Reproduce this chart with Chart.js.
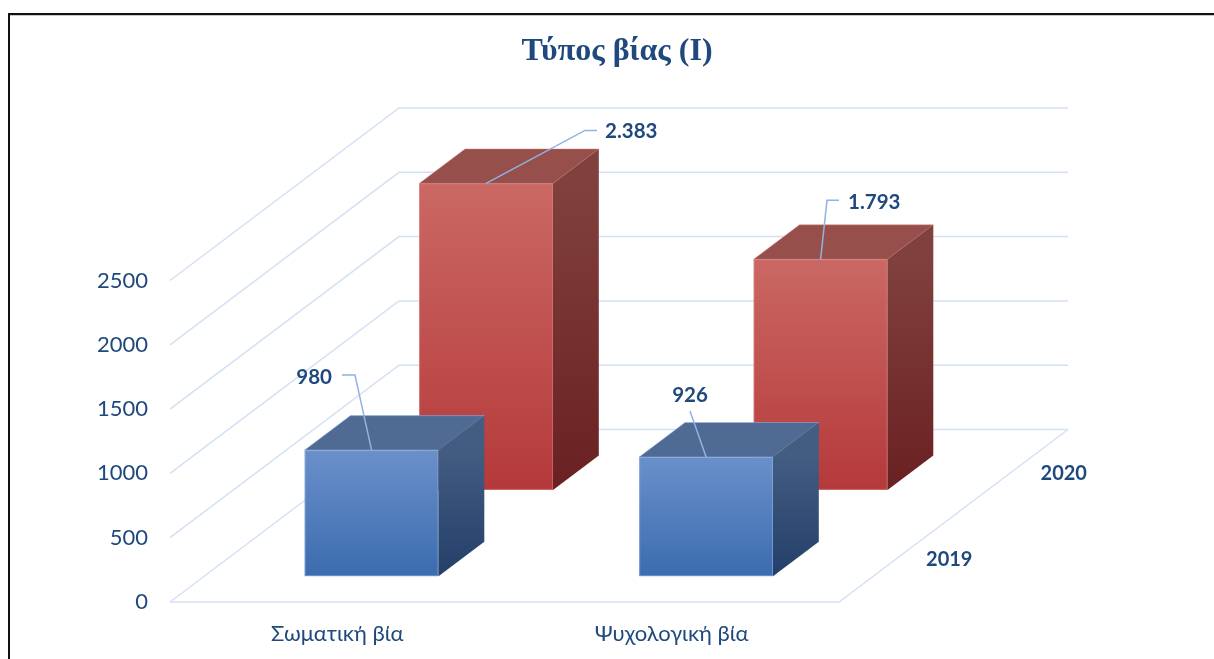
<!DOCTYPE html>
<html>
<head>
<meta charset="utf-8">
<script src="https://cdn.jsdelivr.net/npm/chart.js@4.4.0/dist/chart.umd.min.js"></script>
<style>
html,body{margin:0;padding:0;background:#fff;overflow:hidden;}
#c{display:block;}
</style>
</head>
<body>
<canvas id="c" width="1214" height="659"></canvas>
<script>
// ---- data ----
const categories = ['Σωματική βία', 'Ψυχολογική βία'];
const years = ['2019', '2020'];
const values2019 = [980, 926];
const values2020 = [2383, 1793];
const yTickValues = [0, 500, 1000, 1500, 2000, 2500];
const chartTitle = 'Τύπος βίας (Ι)';

// ---- style / layout ----
const DEPTH_X = 229, DEPTH_Y = -172.5;
const TEXT = '#1f497d';
const GRID = '#d3e1f4';
const LEADER = '#8fb3e4';
const NUM_FONT = "Lato, 'Noto Sans', sans-serif";
const TITLE_POS = [617, 52];
const palettes = [
  { front: ['#6a90ca', '#3b6caf'], top: '#506b93', side: ['#425c82', '#243f69'], edge: 'rgba(150,180,228,0.55)' },
  { front: ['#ca6864', '#b5393a'], top: '#974f4c', side: ['#80403e', '#6a2020'], edge: 'rgba(225,140,135,0.45)' }
];
// label placement relative to the front-top centre of each bar: leader points, text position, alignment
const labelLayout = [
  [ { pts: [[-16.6, -75], [-29.6, -75]], text: [-39.6, -73, 'right'] },
    { pts: [[-16.1, -46]], text: [-16.1, -62, 'center'] } ],
  [ { pts: [[98.9, -53], [110.9, -53]], text: [118.9, -52, 'left'] },
    { pts: [[6.4, -59], [18.4, -59]], text: [27.4, -57, 'left'] } ]
];

function fmt(v) { return String(v).replace(/\B(?=(\d{3})+(?!\d))/g, '.'); }

const threeD = {
  id: 'threeD',
  afterDatasetsDraw(chart) {
    const ctx = chart.ctx, ca = chart.chartArea;
    const ys = chart.scales.y;
    const P = (x, y, z) => [x + DEPTH_X * z, y + DEPTH_Y * z];
    ctx.save();

    // frame
    ctx.fillStyle = '#111';
    ctx.fillRect(8, 13, 1206, 2);
    ctx.fillRect(8, 13, 2, 646);
    ctx.fillStyle = '#c8c8c8';
    ctx.fillRect(10, 15, 1204, 1);

    // title
    ctx.fillStyle = TEXT;
    ctx.font = "bold 32px 'Liberation Serif', 'Times New Roman', serif";
    ctx.textAlign = 'center'; ctx.textBaseline = 'middle';
    ctx.fillText(chartTitle, TITLE_POS[0], TITLE_POS[1]);

    // walls & grid
    ctx.strokeStyle = GRID;
    ctx.lineWidth = 1.5;
    yTickValues.forEach(v => {
      const py = ys.getPixelForValue(v);
      ctx.beginPath();
      ctx.moveTo(ca.left, py);
      ctx.lineTo(...P(ca.left, py, 1));
      ctx.lineTo(...P(ca.right, py, 1));
      ctx.stroke();
    });
    const y0 = ys.getPixelForValue(0);
    ctx.beginPath();
    ctx.moveTo(ca.left, y0);
    ctx.lineTo(ca.right, y0);
    ctx.lineTo(...P(ca.right, y0, 1));
    ctx.stroke();

    const n = chart.data.datasets.length;
    const anchors = [];
    // bars back to front
    for (let r = n - 1; r >= 0; r--) {
      const meta = chart.getDatasetMeta(r);
      const z0 = (r + 0.3) / n, z1 = (r + 0.7) / n;
      const pal = palettes[r];
      anchors[r] = [];
      meta.data.forEach((bar, i) => {
        const v = chart.data.datasets[r].data[i];
        const x0 = bar.x - bar.width / 2, x1 = bar.x + bar.width / 2;
        const yT = ys.getPixelForValue(v), yB = y0;
        const [fx0, fyT] = P(x0, yT, z0);
        const [fx1, fyB] = P(x1, yB, z0);
        // front
        let g = ctx.createLinearGradient(0, fyT, 0, fyB);
        g.addColorStop(0, pal.front[0]); g.addColorStop(1, pal.front[1]);
        ctx.fillStyle = g;
        ctx.fillRect(fx0, fyT, fx1 - fx0, fyB - fyT);
        ctx.strokeStyle = pal.edge; ctx.lineWidth = 1;
        ctx.strokeRect(fx0 + 0.5, fyT + 0.5, fx1 - fx0 - 1, fyB - fyT - 1);
        // top
        ctx.beginPath();
        ctx.moveTo(...P(x0, yT, z0)); ctx.lineTo(...P(x1, yT, z0));
        ctx.lineTo(...P(x1, yT, z1)); ctx.lineTo(...P(x0, yT, z1));
        ctx.closePath();
        ctx.fillStyle = pal.top; ctx.fill();
        ctx.strokeStyle = pal.edge; ctx.stroke();
        // side
        const [, sTop] = P(x1, yT, z0);
        const [, sBot] = P(x1, yB, z0);
        g = ctx.createLinearGradient(0, sTop, 0, sBot);
        g.addColorStop(0, pal.side[0]); g.addColorStop(1, pal.side[1]);
        ctx.beginPath();
        ctx.moveTo(...P(x1, yT, z0)); ctx.lineTo(...P(x1, yT, z1));
        ctx.lineTo(...P(x1, yB, z1)); ctx.lineTo(...P(x1, yB, z0));
        ctx.closePath();
        ctx.fillStyle = g; ctx.fill();
        anchors[r][i] = P(bar.x, yT, z0);
      });
    }

    // depth axis labels
    ctx.fillStyle = TEXT;
    ctx.font = "bold 20px " + NUM_FONT;
    ctx.textAlign = 'center'; ctx.textBaseline = 'middle';
    chart.data.datasets.forEach((ds, r) => {
      const [lx, ly] = P(ca.right, y0, (r + 0.5) / n);
      ctx.fillText(ds.label, lx + 53, ly + 1);
    });

    // value labels with leaders
    chart.data.datasets.forEach((ds, r) => {
      ds.data.forEach((v, i) => {
        const [ax, ay] = anchors[r][i];
        const lay = labelLayout[r][i];
        ctx.strokeStyle = LEADER; ctx.lineWidth = 1.5;
        ctx.beginPath();
        ctx.moveTo(ax, ay);
        lay.pts.forEach(p => ctx.lineTo(ax + p[0], ay + p[1]));
        ctx.stroke();
        ctx.fillStyle = TEXT;
        ctx.font = "bold 20.5px " + NUM_FONT;
        ctx.textAlign = lay.text[2];
        ctx.textBaseline = 'middle';
        ctx.fillText(fmt(v), ax + lay.text[0], ay + lay.text[1]);
      });
    });
    ctx.restore();
  }
};

new Chart(document.getElementById('c'), {
  type: 'bar',
  data: {
    labels: categories,
    datasets: [
      { label: years[0], data: values2019, grouped: false, backgroundColor: 'rgba(0,0,0,0)', borderWidth: 0, barPercentage: 0.4, categoryPercentage: 1 },
      { label: years[1], data: values2020, grouped: false, backgroundColor: 'rgba(0,0,0,0)', borderWidth: 0, barPercentage: 0.4, categoryPercentage: 1 }
    ]
  },
  options: {
    responsive: false,
    animation: false,
    devicePixelRatio: 1,
    layout: { padding: { top: 280.5, left: 0, right: 375, bottom: 0 } },
    plugins: {
      legend: { display: false },
      tooltip: { enabled: false },
      title: { display: false }
    },
    scales: {
      x: {
        grid: { display: false, drawTicks: false },
        border: { display: false },
        ticks: { color: TEXT, font: { family: NUM_FONT, size: 22 }, padding: 18.8 },
        afterFit: s => { s.height = 57; }
      },
      y: {
        min: 0, max: 2500,
        grid: { display: false, drawTicks: false },
        border: { display: false },
        ticks: { stepSize: 500, color: TEXT, font: { family: NUM_FONT, size: 22 }, padding: 22, callback: v => String(v) },
        afterFit: s => { s.width = 170; }
      }
    }
  },
  plugins: [threeD]
});
</script>
</body>
</html>
